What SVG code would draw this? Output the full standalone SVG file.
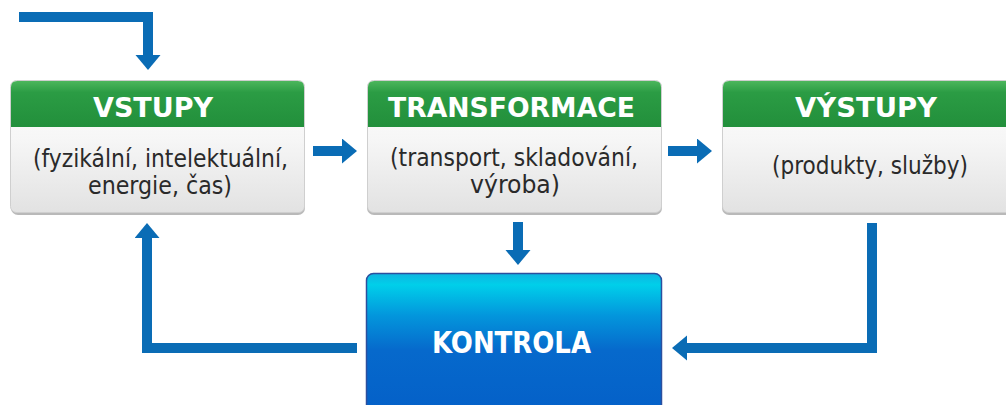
<svg xmlns="http://www.w3.org/2000/svg" width="1006" height="405" viewBox="0 0 1006 405">
  <defs>
    <linearGradient id="gHead" x1="0" y1="0" x2="0" y2="1">
      <stop offset="0" stop-color="#4cb65c"/>
      <stop offset="0.25" stop-color="#2b9c44"/>
      <stop offset="1" stop-color="#228f3b"/>
    </linearGradient>
    <linearGradient id="gBody" x1="0" y1="0" x2="0" y2="1">
      <stop offset="0" stop-color="#ffffff"/>
      <stop offset="0.45" stop-color="#f6f6f6"/>
      <stop offset="1" stop-color="#e2e2e2"/>
    </linearGradient>
    <linearGradient id="gCtrl" x1="0" y1="0" x2="0" y2="1">
      <stop offset="0" stop-color="#10b4e0"/>
      <stop offset="0.08" stop-color="#00cfea"/>
      <stop offset="0.3" stop-color="#0396dc"/>
      <stop offset="0.55" stop-color="#0669cc"/>
      <stop offset="1" stop-color="#0460c8"/>
    </linearGradient>
    <marker id="head" markerUnits="userSpaceOnUse" markerWidth="16" markerHeight="26" refX="0" refY="12.5" orient="auto">
      <path d="M0,0 L15,12.5 L0,25 Z" fill="#0a6cb5"/>
    </marker>
    <clipPath id="page"><rect x="0" y="0" width="1006" height="405"/></clipPath>
  </defs>
  <style>
    .shadow { fill: #b9b9b9; }
    .frame { fill: url(#gBody); stroke: #cfcfcf; stroke-width: 1; }
    .band { fill: url(#gHead); }
    .title { font-family: "DejaVu Sans Condensed", "DejaVu Sans", sans-serif; font-stretch: condensed; font-weight: bold; font-size: 27px; fill: #ffffff; text-anchor: middle; }
    .desc { font-family: "DejaVu Sans Condensed", "DejaVu Sans", sans-serif; font-stretch: condensed; font-size: 24px; fill: #2a2a2a; text-anchor: middle; }
    .ctrl { fill: url(#gCtrl); stroke: #2c4f9e; stroke-width: 1.5; }
    .ctrlText { font-family: "DejaVu Sans Condensed", "DejaVu Sans", sans-serif; font-stretch: condensed; font-weight: bold; font-size: 31px; fill: #ffffff; text-anchor: middle; }
    .link { fill: none; stroke: #0a6cb5; stroke-width: 10; stroke-linejoin: miter; stroke-linecap: butt; marker-end: url(#head); }
  </style>

  <g clip-path="url(#page)">
    <!-- VSTUPY -->
    <g id="vstupy">
      <rect class="shadow" x="11" y="83" width="294" height="132" rx="7"/>
      <rect class="frame" x="10.5" y="80.5" width="294" height="132" rx="6"/>
      <path class="band" d="M11,127 V87 Q11,81 17,81 H298 Q304,81 304,87 V127 Z"/>
      <text class="title" x="153" y="117" textLength="120" lengthAdjust="spacingAndGlyphs">VSTUPY</text>
      <text class="desc" x="160.5" y="167" textLength="255" lengthAdjust="spacingAndGlyphs">(fyzikální, intelektuální,</text>
      <text class="desc" x="160" y="194" textLength="144" lengthAdjust="spacingAndGlyphs">energie, čas)</text>
    </g>

    <!-- TRANSFORMACE -->
    <g id="transformace">
      <rect class="shadow" x="367" y="83" width="295" height="132" rx="7"/>
      <rect class="frame" x="367.5" y="80.5" width="294" height="132" rx="6"/>
      <path class="band" d="M368,127 V87 Q368,81 374,81 H655 Q661,81 661,87 V127 Z"/>
      <text class="title" x="511.5" y="117" textLength="247" lengthAdjust="spacingAndGlyphs">TRANSFORMACE</text>
      <text class="desc" x="514" y="166" textLength="248" lengthAdjust="spacingAndGlyphs">(transport, skladování,</text>
      <text class="desc" x="515" y="193" textLength="90" lengthAdjust="spacingAndGlyphs">výroba)</text>
    </g>

    <!-- VÝSTUPY -->
    <g id="vystupy">
      <rect class="shadow" x="722" y="83" width="295" height="132" rx="7"/>
      <rect class="frame" x="722.5" y="80.5" width="294" height="132" rx="6"/>
      <path class="band" d="M723,127 V87 Q723,81 729,81 H1010 Q1016,81 1016,87 V127 Z"/>
      <text class="title" x="866" y="117" textLength="142" lengthAdjust="spacingAndGlyphs">VÝSTUPY</text>
      <text class="desc" x="870" y="174" textLength="196" lengthAdjust="spacingAndGlyphs">(produkty, služby)</text>
    </g>

    <!-- KONTROLA -->
    <g id="kontrola">
      <rect class="ctrl" x="366.5" y="273.5" width="295" height="140" rx="7"/>
      <text class="ctrlText" x="511.5" y="353" textLength="159" lengthAdjust="spacingAndGlyphs">KONTROLA</text>
    </g>

    <!-- connectors -->
    <g id="connectors">
      <path class="link" d="M19,17 H148 V55"/>
      <path class="link" d="M313,151 H342"/>
      <path class="link" d="M668,151 H697"/>
      <path class="link" d="M518,222 V250"/>
      <path class="link" d="M357,348 H147 V238"/>
      <path class="link" d="M872,223 V348 H687"/>
    </g>
  </g>
</svg>
